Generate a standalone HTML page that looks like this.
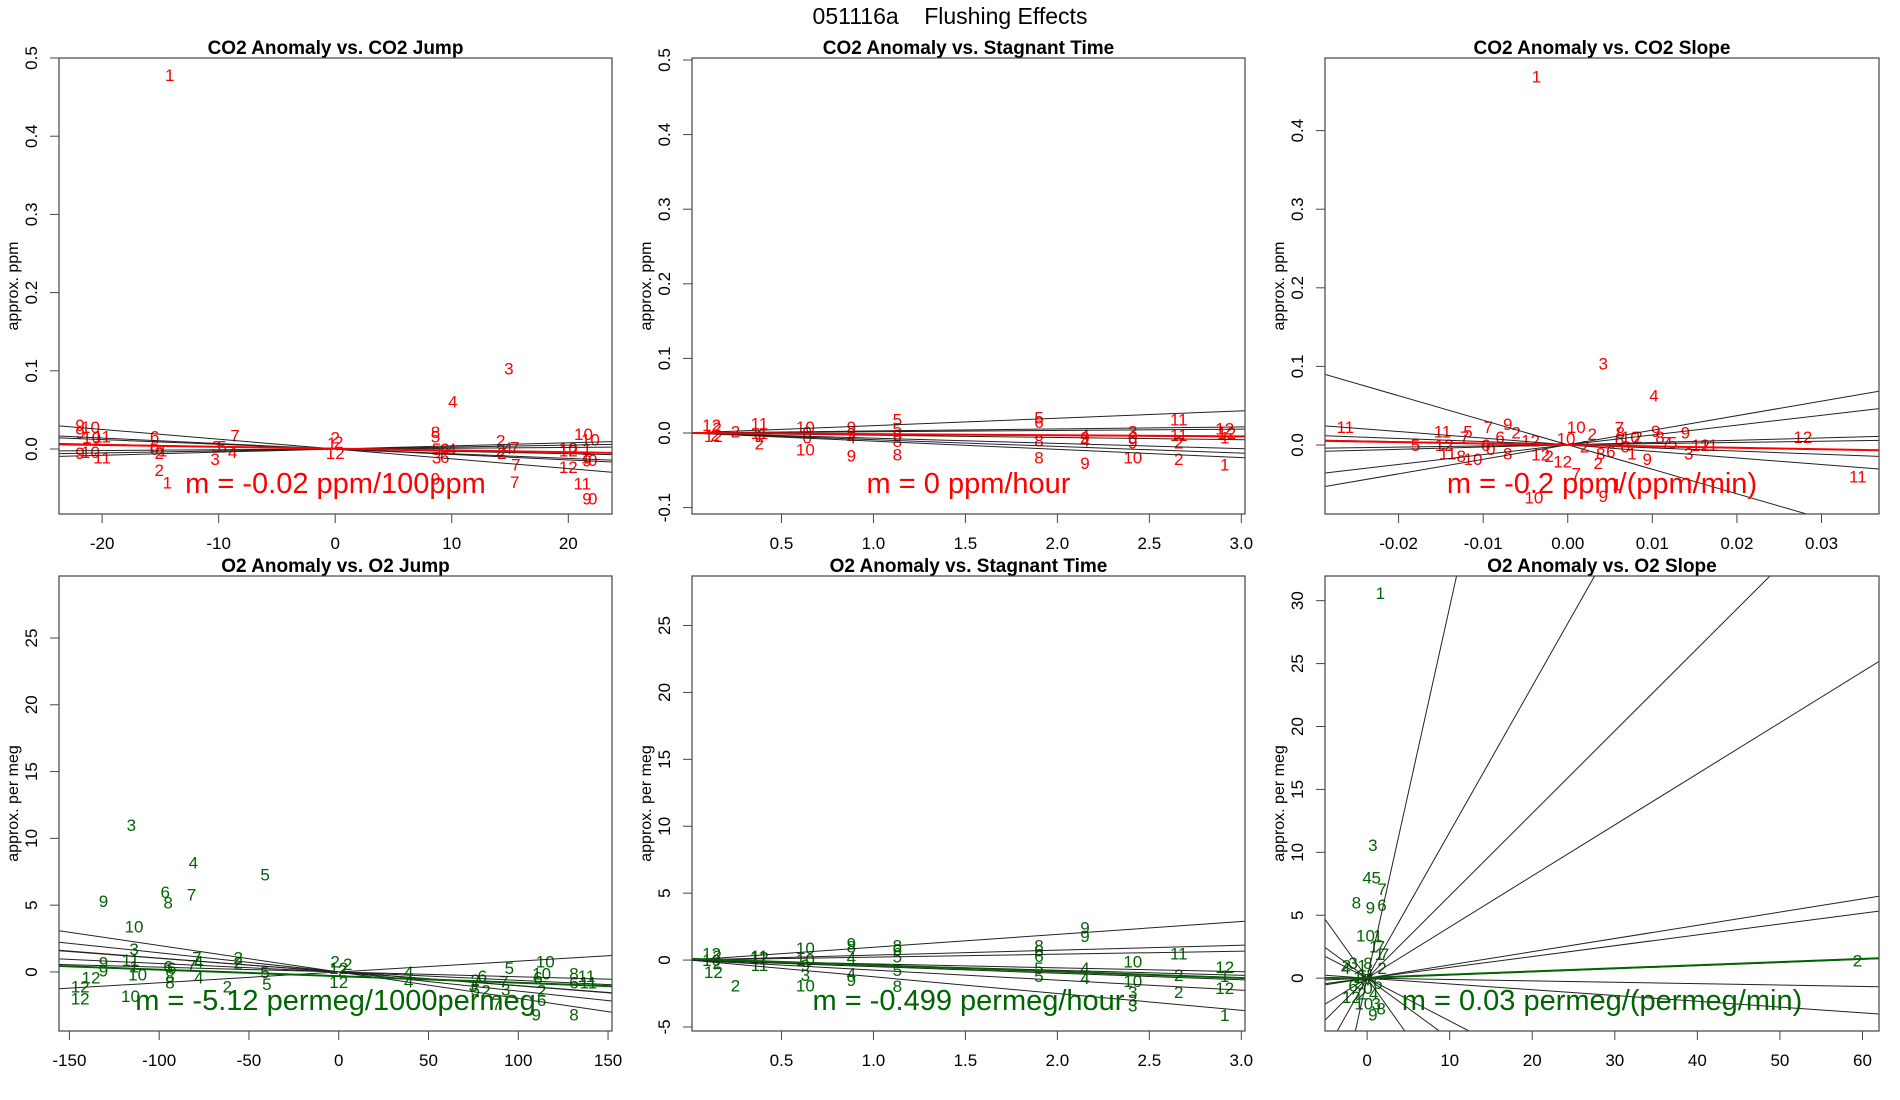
<!DOCTYPE html>
<html><head><meta charset="utf-8"><style>
html,body{margin:0;padding:0;background:#fff;width:1900px;height:1100px;overflow:hidden;}
svg{display:block;font-family:"Liberation Sans",sans-serif;}
</style></head><body>
<svg id="chart" width="1900" height="1100" viewBox="0 0 1900 1100" xmlns="http://www.w3.org/2000/svg">
<rect x="0" y="0" width="1900" height="1100" fill="#fff"/>
<text x="950" y="24" text-anchor="middle" font-size="23" fill="#000">051116a&#160;&#160;&#160;&#160;Flushing Effects</text>
</svg>
<script>
// ---- Panel 1: CO2 Anomaly vs CO2 Jump ----
const p1Points = [['1',-14.2,0.478],['3',14.9,0.103],['4',10.1,0.061],
['9',-21.9,0.031],['10',-21.0,0.028],['9',-21.9,0.021],['10',-20.9,0.015],['11',-20.0,0.016],['9',-21.9,-0.005],['10',-21.0,-0.004],['11',-20.0,-0.011],
['6',-15.5,0.016],['6',-15.5,0.003],['0',-15.5,0],['1',-14.8,-0.002],['2',-15.1,-0.005],['2',-15.1,-0.027],['1',-14.4,-0.043],
['3',-10.2,0.003],['5',-9.7,0.003],['4',-8.8,-0.004],['3',-10.3,-0.013],['7',-8.6,0.017],
['2',0,0.015],['1',-0.3,0.008],['2',0.3,0.009],['12',0,-0.005],
['8',8.6,0.022],['5',8.6,0.016],['5',8.7,0],['6',9.4,0],['4',10.0,0],['3',8.7,-0.011],['6',9.4,-0.010],['9',8.6,-0.038],
['2',14.2,0.011],['2',14.2,-0.001],['4',14.8,0.001],['7',15.4,0.002],['7',15.5,-0.020],['7',15.4,-0.042],['2',14.3,-0.005],
['10',21.3,0.019],['10',21.9,0.012],['10',20.0,0.001],['1',21.6,0],['12',20.0,-0.002],['1',21.5,-0.011],['9',21.6,-0.015],['0',22.1,-0.014],['12',20.0,-0.023],['11',21.2,-0.044],['9',21.6,-0.063],['0',22.1,-0.063]];
const p1Slopes = [-0.00125,-0.0007,-0.0006,-0.0003,0.0004,0.00025,0.0001];
const p1Intercepts = [0,0,0,0,0,0,0];
const p1Fit = [0.0005,-0.00023];
const p1XTicks = [-20,-10,0,10,20];
const p1YTicks = [0,0.1,0.2,0.3,0.4,0.5];
const p1YTickLabels = ['0.0','0.1','0.2','0.3','0.4','0.5'];

// ---- Panel 2: CO2 Anomaly vs Stagnant Time ----
const p2Points = [['12',0.12,0.011],['2',0.15,0.007],['12',0.13,-0.004],['2',0.14,-0.003],['2',0.25,0.002],
['11',0.38,0.013],['11',0.38,0],['1',0.38,-0.004],['2',0.38,-0.014],
['10',0.63,0.008],['0',0.64,0.001],['0',0.64,-0.006],['10',0.63,-0.022],
['9',0.88,0.008],['9',0.88,-0.001],['4',0.88,-0.006],['9',0.88,-0.030],
['5',1.13,0.018],['5',1.13,0.006],['6',1.13,-0.003],['8',1.13,-0.011],['8',1.13,-0.029],
['5',1.90,0.021],['6',1.90,0.015],['8',1.90,-0.010],['8',1.90,-0.033],
['4',2.15,-0.003],['9',2.15,-0.006],['4',2.15,-0.010],['9',2.15,-0.040],
['3',2.41,0.002],['0',2.41,-0.006],['9',2.41,-0.013],['10',2.41,-0.033],
['11',2.66,0.018],['11',2.66,-0.003],['2',2.66,-0.013],['2',2.66,-0.035],
['12',2.91,0.006],['12',2.92,0],['1',2.91,-0.006],['1',2.91,-0.042]];
const p2Slopes = [0.0099,0.0027,0.0017,-0.0017,-0.003,-0.007,-0.009,-0.011];
const p2Intercepts = [0,0,0,0,0,0,0,0];
const p2Fit = [0,-0.0015];
const p2XTicks = [0.5,1.0,1.5,2.0,2.5,3.0];
const p2XTickLabels = ['0.5','1.0','1.5','2.0','2.5','3.0'];
const p2YTicks = [-0.1,0,0.1,0.2,0.3,0.4,0.5];
const p2YTickLabels = ['-0.1','0.0','0.1','0.2','0.3','0.4','0.5'];

// ---- Panel 3: CO2 Anomaly vs CO2 Slope ----
const p3Points = [['1',-0.0037,0.469],['3',0.0042,0.104],['4',0.0102,0.063],['11',-0.0263,0.023],['5',-0.018,0],
['11',-0.0148,0.017],['5',-0.0118,0.017],['7',-0.0122,0.010],['12',-0.0146,0],['11',-0.0142,-0.011],['8',-0.0126,-0.014],['10',-0.0112,-0.018],
['7',-0.0094,0.023],['9',-0.0071,0.027],['2',-0.0061,0.016],['6',-0.0080,0.010],['6',-0.0097,0],['0',-0.0091,-0.005],['8',-0.0071,-0.011],
['12',-0.0044,0.006],['12',-0.0032,-0.012],['2',-0.0022,-0.014],
['10',0.0010,0.023],['10',-0.0002,0.008],['2',0.0029,0.014],['2',0.0020,-0.002],['12',-0.0006,-0.021],['7',0.0010,-0.036],['10',-0.0040,-0.067],
['7',0.0061,0.022],['8',0.0062,0.016],['10',0.0074,0.010],['2',0.0083,0.010],['6',0.0061,0.007],['0',0.0068,-0.002],['1',0.0076,-0.011],['6',0.0051,-0.008],['8',0.0039,-0.011],['2',0.0036,-0.023],['9',0.0094,-0.018],
['9',0.0104,0.018],['8',0.0109,0.010],['7',0.0116,0.003],['5',0.0124,0.003],['9',0.0139,0.016],['3',0.0143,-0.011],['12',0.0157,0],['11',0.0167,0],
['1',0.0058,-0.050],['9',0.0042,-0.065],['12',0.0278,0.010],['11',0.0343,-0.040]];
const p3Slopes = [-3.12,1.85,1.25,-0.84,-0.4,0.29,-0.2,0.15];
const p3Intercepts = [0.0003,0.0003,0.0003,0.0003,0.0003,0.0003,0.0003,0.0003];
const p3Fit = [0,-0.18];
const p3XTicks = [-0.02,-0.01,0,0.01,0.02,0.03];
const p3XTickLabels = ['-0.02','-0.01','0.00','0.01','0.02','0.03'];
const p3YTicks = [0,0.1,0.2,0.3,0.4];
const p3YTickLabels = ['0.0','0.1','0.2','0.3','0.4'];

// ---- Panel 4: O2 Anomaly vs O2 Jump ----
const p4Points = [['3',-115.5,11.0],['4',-81,8.2],['5',-41,7.3],['6',-96.6,6.0],['8',-95,5.2],['7',-82,5.8],['9',-131,5.3],['10',-114,3.4],['3',-114,1.7],['11',-116,0.9],['1',-114,0.4],['10',-112,-0.2],['9',-131,0.7],['9',-131,0.1],['12',-138,-0.4],['12',-144,-1.1],['12',-144,-2.0],['10',-116,-1.8],
['6',-95,0.4],['6',-93,0.3],['8',-94,-0.3],['8',-94,-0.8],['7',-79,1.1],['7',-82,0.5],['4',-78,0.8],['4',-78,-0.4],['2',-56,1.1],['2',-56,0.7],['5',-41,0],['5',-40,-0.9],['2',-62,-1.1],
['2',-2,0.8],['2',5,0.6],['12',0,0.3],['2',2,0.1],['12',0,-0.75],['4',39,0],['4',39,-0.7],
['6',80,-0.3],['2',76,-0.6],['3',75,-1.0],['5',76,-1.3],['2',82,-1.4],['5',95,0.3],['7',92,-0.7],['3',93,-1.3],['7',88,-2.4],
['10',115,0.8],['10',113,-0.1],['6',111,-0.4],['2',113,-1.4],['6',113,-2.1],['9',110,-3.2],['8',131,-0.1],['11',138,-0.3],['11',139,-0.8],['6',131,-0.8],['8',131,-3.2]];
const p4Slopes = [-0.0198,-0.0143,-0.0104,-0.0102,-0.0063,-0.0036,0.0081];
const p4Intercepts = [0,0,0,0,0,0,0];
const p4Fit = [-0.32,-0.0049];
const p4XTicks = [-150,-100,-50,0,50,100,150];
const p4YTicks = [0,5,10,15,20,25];

// ---- Panel 5: O2 Anomaly vs Stagnant Time ----
const p5Points = [['12',0.12,0.5],['2',0.15,0.3],['10',0.12,0],['12',0.13,-0.9],['2',0.15,-0.2],['2',0.25,-1.9],
['11',0.38,0.3],['12',0.38,0.2],['11',0.38,-0.35],
['10',0.63,0.9],['10',0.63,0.05],['9',0.63,-0.35],['3',0.63,-1.1],['10',0.63,-1.9],
['9',0.88,1.25],['8',0.88,1.0],['4',0.88,0.2],['4',0.88,-1.0],['9',0.88,-1.5],
['8',1.13,1.1],['6',1.13,0.8],['5',1.13,0.25],['5',1.13,-0.75],['8',1.13,-1.95],
['8',1.90,1.1],['6',1.90,0.7],['6',1.90,0.3],['5',1.90,-0.6],['5',1.90,-1.2],
['9',2.15,2.45],['9',2.15,1.8],['4',2.15,-0.6],['4',2.15,-1.35],
['10',2.41,-0.1],['10',2.41,-1.55],['3',2.41,-2.4],['3',2.41,-3.0],['3',2.41,-3.4],
['11',2.66,0.5],['2',2.66,-1.1],['2',2.66,-2.4],
['12',2.91,-0.5],['1',2.91,-1.2],['12',2.91,-2.1],['1',2.91,-4.1]];
const p5Slopes = [0.96,0.37,0.22,-0.29,-0.38,-0.49,-0.75,-1.25];
const p5Intercepts = [0,0,0,0,0,0,0,0];
const p5Fit = [0.1,-0.48];
const p5YTicks = [-5,0,5,10,15,20,25];

// ---- Panel 6: O2 Anomaly vs O2 Slope ----
const p6Points = [['1',1.6,30.6],['3',0.7,10.6],['4',0,8.0],['5',1.1,8.0],['7',1.8,7.1],['8',-1.3,6.0],['9',0.4,5.6],['6',1.8,5.8],['10',-0.2,3.4],['1',1.3,3.4],['1',0.8,2.5],['7',1.6,2.5],['1',1.5,1.9],['7',2.1,1.9],['2',59.4,1.4],
['2',-2.5,1.0],['3',-1.7,1.2],['4',-2.6,0.8],['1',-0.6,1.0],['8',0.1,1.2],['2',1.8,0.8],['1',-1.1,0.1],['11',-0.1,0.3],['7',0.2,-0.1],['5',-0.9,-0.4],['6',-1.7,-0.6],['0',0.1,-0.8],['6',1.3,-0.4],['4',0.8,-1.2],['2',-0.6,-1.2],['12',-1.9,-1.5],['10',-0.4,-2.0],['3',1.1,-2.0],['8',1.7,-2.4],['9',0.7,-2.9]];
const p6Slopes = [2.95,1.16,0.655,0.406,0.105,0.086,0.025,-0.011,-0.046,-0.34,-0.48,-0.92];
const p6Intercepts = [0,0,0,0,0,0,0,0,0,0,0,0];
const p6Fit = [0.03,0.025];
const p6XTicks = [0,10,20,30,40,50,60];
const p6YTicks = [0,5,10,15,20,25,30];

const NS = 'http://www.w3.org/2000/svg';
const svg = document.getElementById('chart');
function mk(tag, attrs, parent){
  const e = document.createElementNS(NS, tag);
  for (const k in attrs) e.setAttribute(k, attrs[k]);
  (parent||svg).appendChild(e);
  return e;
}

const panels = [
 {id:'p1', title:'CO2 Anomaly vs. CO2 Jump', ylab:'approx. ppm', box:[59,612,58,514], xd:[-23.7,23.75], yd:[-0.0831,0.5],
  pts:p1Points, sl:p1Slopes, ic:p1Intercepts, fit:p1Fit, col:'#ff0000', xt:p1XTicks, xtl:p1XTicks.map(String), yt:p1YTicks, ytl:p1YTickLabels, m:'m = -0.02 ppm/100ppm'},
 {id:'p2', title:'CO2 Anomaly vs. Stagnant Time', ylab:'approx. ppm', box:[692,1245,58,514], xd:[0.0136,3.02], yd:[-0.1086,0.5027],
  pts:p2Points, sl:p2Slopes, ic:p2Intercepts, fit:p2Fit, col:'#ff0000', xt:p2XTicks, xtl:p2XTickLabels, yt:p2YTicks, ytl:p2YTickLabels, m:'m = 0 ppm/hour'},
 {id:'p3', title:'CO2 Anomaly vs. CO2 Slope', ylab:'approx. ppm', box:[1325,1879,58,514], xd:[-0.0287,0.0368], yd:[-0.0878,0.4924],
  pts:p3Points, sl:p3Slopes, ic:p3Intercepts, fit:p3Fit, col:'#ff0000', xt:p3XTicks, xtl:p3XTickLabels, yt:p3YTicks, ytl:p3YTickLabels, m:'m = -0.2 ppm/(ppm/min)'},
 {id:'p4', title:'O2 Anomaly vs. O2 Jump', ylab:'approx. per meg', box:[59,612,576,1031], xd:[-155.8,152.2], yd:[-4.42,29.64],
  pts:p4Points, sl:p4Slopes, ic:p4Intercepts, fit:p4Fit, col:'#006400', xt:p4XTicks, xtl:p4XTicks.map(String), yt:p4YTicks, ytl:p4YTicks.map(String), m:'m = -5.12 permeg/1000permeg'},
 {id:'p5', title:'O2 Anomaly vs. Stagnant Time', ylab:'approx. per meg', box:[692,1245,576,1031], xd:[0.0136,3.02], yd:[-5.3,28.7],
  pts:p5Points, sl:p5Slopes, ic:p5Intercepts, fit:p5Fit, col:'#006400', xt:p2XTicks, xtl:p2XTickLabels, yt:p5YTicks, ytl:p5YTicks.map(String), m:'m = -0.499 permeg/hour'},
 {id:'p6', title:'O2 Anomaly vs. O2 Slope', ylab:'approx. per meg', box:[1325,1879,576,1031], xd:[-5.1,62.0], yd:[-4.2,31.96],
  pts:p6Points, sl:p6Slopes, ic:p6Intercepts, fit:p6Fit, col:'#006400', xt:p6XTicks, xtl:p6XTicks.map(String), yt:p6YTicks, ytl:p6YTicks.map(String), m:'m = 0.03 permeg/(permeg/min)'}
];

const defs = mk('defs', {});
panels.forEach(p => {
  const [L,R,T,B] = p.box;
  const sx = v => L + (v - p.xd[0]) / (p.xd[1]-p.xd[0]) * (R-L);
  const sy = v => B - (v - p.yd[0]) / (p.yd[1]-p.yd[0]) * (B-T);
  const cp = mk('clipPath', {id:'clip-'+p.id}, defs);
  mk('rect', {x:L, y:T, width:R-L, height:B-T}, cp);

  const g = mk('g', {});
  
  

  const title = mk('text', {x:(L+R)/2, y:T-4, 'text-anchor':'middle', 'font-size':19, 'font-weight':'bold', fill:'#000'}, g);
  title.textContent = p.title;
  
  

  const yl = mk('text', {x:0, y:0, 'text-anchor':'middle', 'font-size':16, fill:'#000', transform:`translate(${L-41},${(T+B)/2}) rotate(-90)`}, g);
  yl.textContent = p.ylab;
  
  

  const area = mk('g', {'clip-path':'url(#clip-'+p.id+')'}, g);
  
  

  p.pts.forEach(pt => {
    const t = mk('text', {x:sx(pt[1]), y:sy(pt[2]) + 6, 'text-anchor':'middle', 'font-size':17, fill:p.col}, area);
    t.textContent = pt[0];
    
    
  });
  p.sl.forEach((s, i) => {
    const a = p.ic[i];
    const ln = mk('line', {x1:sx(p.xd[0]), y1:sy(a + s*p.xd[0]), x2:sx(p.xd[1]), y2:sy(a + s*p.xd[1]), stroke:'#222', 'stroke-width':1}, area);
    
    
  });
  const fl = mk('line', {x1:sx(p.xd[0]), y1:sy(p.fit[0] + p.fit[1]*p.xd[0]), x2:sx(p.xd[1]), y2:sy(p.fit[0] + p.fit[1]*p.xd[1]), stroke:p.col, 'stroke-width':2}, area);
  
  

  const mt = mk('text', {x:(L+R)/2, y:B-21, 'text-anchor':'middle', 'font-size':29, fill:p.col}, g);
  mt.textContent = p.m;
  
  

  const box = mk('rect', {x:L, y:T, width:R-L, height:B-T, fill:'none', stroke:'#444', 'stroke-width':1.2}, g);
  
  

  p.xt.forEach((v, i) => {
    const x = sx(v);
    const tk = mk('line', {x1:x, y1:B, x2:x, y2:B+9, stroke:'#444', 'stroke-width':1}, g);
    
    
    const tl = mk('text', {x:x, y:B+35, 'text-anchor':'middle', 'font-size':17, fill:'#000'}, g);
    tl.textContent = p.xtl[i];
    
    
  });
  p.yt.forEach((v, i) => {
    const y = sy(v);
    const tk = mk('line', {x1:L-9, y1:y, x2:L, y2:y, stroke:'#444', 'stroke-width':1}, g);
    
    
    const tl = mk('text', {x:0, y:0, 'text-anchor':'middle', 'font-size':17, fill:'#000', transform:`translate(${L-22},${y}) rotate(-90)`}, g);
    tl.textContent = p.ytl[i];
    
    
  });
});
</script>
</body></html>
